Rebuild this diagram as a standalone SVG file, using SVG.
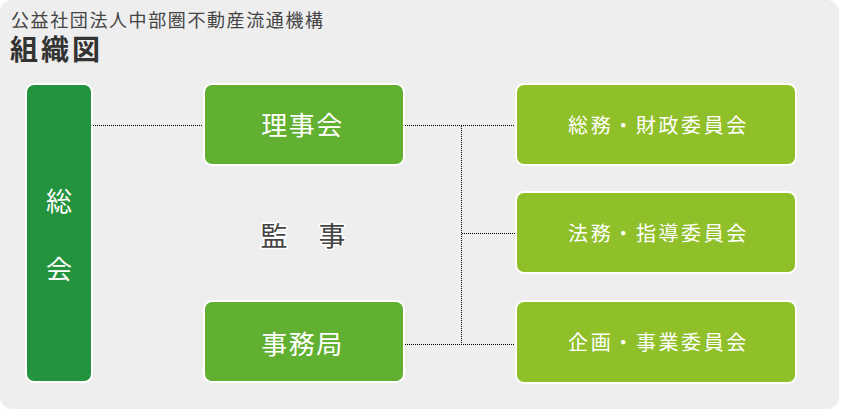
<svg xmlns="http://www.w3.org/2000/svg" width="841" height="411" viewBox="0 0 841 411">
<style>
.t{font-family:"Noto Sans CJK JP","Noto Sans CJK SC",sans-serif;}
.box{stroke:#ffffff;stroke-width:2;}
.dk{fill:#23933d;}
.md{fill:#62b032;}
.lt{fill:#8fc02a;}
.w{fill:#ffffff;text-anchor:middle;}
.conn{stroke:#000000;stroke-width:1;stroke-dasharray:1 1;fill:none;shape-rendering:crispEdges;}
</style>
<rect x="0" y="0" width="839" height="409" rx="12" fill="#eeeeee"/>
<g id="title">
<text class="t" x="11" y="26.5" font-size="18" letter-spacing="1.6" fill="#444444">公益社団法人中部圏不動産流通機構</text>
<text class="t" x="10" y="60" font-size="28" font-weight="bold" letter-spacing="3" fill="#333333">組織図</text>
</g>
<g id="connectors">
<line class="conn" x1="93" y1="125.5" x2="203" y2="125.5"/>
<line class="conn" x1="405" y1="125.5" x2="515" y2="125.5"/>
<line class="conn" x1="461.5" y1="125.5" x2="461.5" y2="344.5"/>
<line class="conn" x1="461.5" y1="233.5" x2="515" y2="233.5"/>
<line class="conn" x1="405" y1="344.5" x2="515" y2="344.5"/>
</g>
<g id="soukai">
<rect class="box dk" x="26" y="84" width="66" height="298" rx="8"/>
<text class="t w" x="59" y="211" font-size="26">総</text>
<text class="t w" x="59" y="279" font-size="26">会</text>
</g>
<g id="rijikai">
<rect class="box md" x="204" y="84" width="200" height="81" rx="8"/>
<text class="t w" x="302.5" y="134.5" font-size="26" letter-spacing="1.5">理事会</text>
</g>
<g id="kanji">
<text class="t" x="304" y="245.5" font-size="27" letter-spacing="2" text-anchor="middle" fill="#444444" stroke="#ffffff" stroke-width="3" paint-order="stroke" stroke-linejoin="round">監　事</text>
</g>
<g id="jimukyoku">
<rect class="box md" x="204" y="301" width="200" height="81" rx="8"/>
<text class="t w" x="302.5" y="354" font-size="26" letter-spacing="1.5">事務局</text>
</g>
<g id="soumu">
<rect class="box lt" x="516" y="84" width="280" height="81" rx="8"/>
<text class="t w" x="658.5" y="133" font-size="20" letter-spacing="2.6">総務・財政委員会</text>
</g>
<g id="houmu">
<rect class="box lt" x="516" y="192" width="280" height="81" rx="8"/>
<text class="t w" x="658.5" y="241" font-size="20" letter-spacing="2.6">法務・指導委員会</text>
</g>
<g id="kikaku">
<rect class="box lt" x="516" y="301" width="280" height="82" rx="8"/>
<text class="t w" x="658.5" y="350" font-size="20" letter-spacing="2.6">企画・事業委員会</text>
</g>
</svg>
